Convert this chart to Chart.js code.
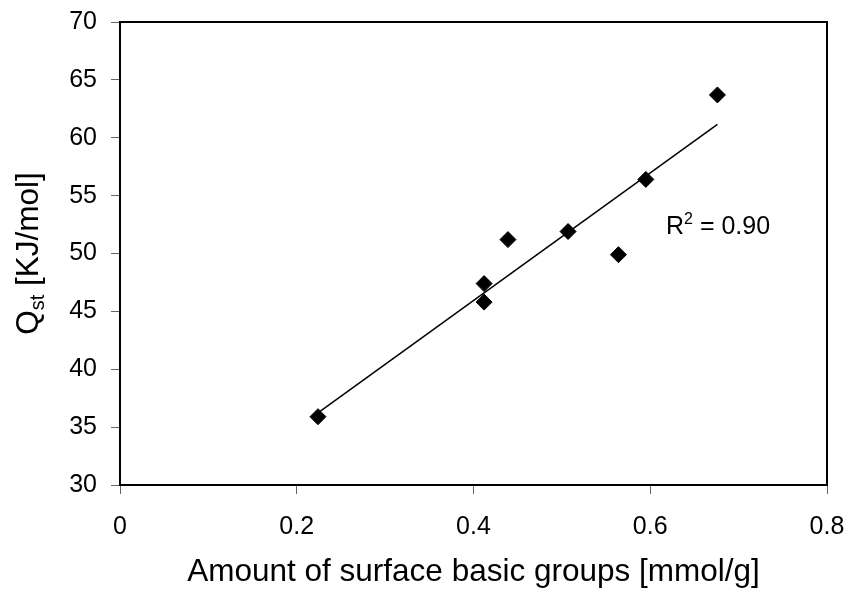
<!DOCTYPE html>
<html>
<head>
<meta charset="utf-8">
<script src="https://cdn.jsdelivr.net/npm/chart.js@4.4.1/dist/chart.umd.min.js"></script>
<style>
  html, body { margin: 0; padding: 0; background: #fff; }
  #wrap { width: 849px; height: 591px; }
</style>
</head>
<body>
<div id="wrap"><canvas id="qstChart" width="849" height="591"></canvas></div>
<script>
// Measured points (amount of basic groups vs Qst)
const basicGroups = [0.224, 0.412, 0.412, 0.439, 0.507, 0.564, 0.595, 0.676];
const qstValues = [35.9, 47.4, 45.8, 51.2, 51.9, 49.9, 56.4, 63.7];
const xTicks = [0, 0.2, 0.4, 0.6, 0.8];
const yTicks = [30, 35, 40, 45, 50, 55, 60, 65, 70];

const FONT = "'Liberation Sans', Arial, Helvetica, sans-serif";

// least squares trend line over the data range
function trendLine(xs, ys) {
    const n = xs.length;
    const mx = xs.reduce((a, b) => a + b, 0) / n;
    const my = ys.reduce((a, b) => a + b, 0) / n;
    let sxy = 0, sxx = 0;
    xs.forEach((x, i) => { sxy += (x - mx) * (ys[i] - my); sxx += (x - mx) * (x - mx); });
    const slope = sxy / sxx;
    const icpt = my - slope * mx;
    const x0 = Math.min(...xs), x1 = Math.max(...xs);
    return [{ x: x0, y: icpt + slope * x0 }, { x: x1, y: icpt + slope * x1 }];
}

const frame = {
    id: 'frame',
    afterDraw(chart) {
        const { ctx, chartArea: a } = chart;
        ctx.save();
        ctx.strokeStyle = '#000';
        ctx.lineWidth = 2;
        ctx.strokeRect(a.left, a.top, a.right - a.left, a.bottom - a.top);

        // y axis title with subscript
        ctx.fillStyle = '#000';
        ctx.textBaseline = 'alphabetic';
        ctx.translate(38, (a.top + a.bottom) / 2);
        ctx.rotate(-Math.PI / 2);
        const big = '31.5px ' + FONT, small = '20px ' + FONT;
        ctx.font = big; const wQ = ctx.measureText('Q').width;
        const wRest = ctx.measureText(' [KJ/mol]').width;
        ctx.font = small; const wSt = ctx.measureText('st').width;
        let x = -(wQ + wSt + wRest) / 2;
        ctx.font = big; ctx.fillText('Q', x, 0); x += wQ;
        ctx.font = small; ctx.fillText('st', x, 6); x += wSt;
        ctx.font = big; ctx.fillText(' [KJ/mol]', x, 0);
        ctx.restore();

        // R squared label
        ctx.save();
        ctx.fillStyle = '#000';
        ctx.textBaseline = 'alphabetic';
        let rx = 666, ry = 234;
        ctx.font = '25px ' + FONT; ctx.fillText('R', rx, ry); rx += ctx.measureText('R').width;
        ctx.font = '16px ' + FONT; ctx.fillText('2', rx, ry - 10); rx += ctx.measureText('2').width;
        ctx.font = '25px ' + FONT; ctx.fillText(' = 0.90', rx, ry);
        ctx.restore();
    }
};

new Chart(document.getElementById('qstChart'), {
    type: 'scatter',
    data: {
        datasets: [{
            data: basicGroups.map((x, i) => ({ x, y: qstValues[i] })),
            pointStyle: 'rectRot',
            pointRadius: 8,
            pointBackgroundColor: '#000',
            pointBorderColor: '#000',
            pointBorderWidth: 1,
            showLine: false
        }, {
            data: trendLine(basicGroups, qstValues),
            showLine: true,
            borderColor: '#000',
            borderWidth: 1.5,
            pointRadius: 0
        }]
    },
    options: {
        responsive: false,
        animation: false,
        layout: { padding: { top: 22, right: 22, left: 0, bottom: 0 } },
        plugins: { legend: { display: false }, tooltip: { enabled: false } },
        scales: {
            x: {
                type: 'linear',
                min: 0, max: 0.8,
                afterBuildTicks: s => { s.ticks = xTicks.map(v => ({ value: v })); },
                afterFit: s => { s.height = 106; s.paddingLeft = 0; s.paddingRight = 0; },
                grid: { drawOnChartArea: false, drawTicks: true, tickLength: 9, color: '#666', lineWidth: 1 },
                border: { display: true, color: '#000', width: 2 },
                ticks: { color: '#000', padding: 18, font: { family: FONT, size: 25 }, maxRotation: 0 },
                title: {
                    display: true,
                    text: 'Amount of surface basic groups [mmol/g]',
                    color: '#000',
                    font: { family: FONT, size: 31.5 },
                    padding: { top: 0, bottom: 0 }
                }
            },
            y: {
                min: 30, max: 70,
                afterBuildTicks: s => { s.ticks = yTicks.map(v => ({ value: v })); },
                afterFit: s => { s.width = 120; s.paddingTop = 0; s.paddingBottom = 0; },
                grid: { drawOnChartArea: false, drawTicks: true, tickLength: 9, color: '#666', lineWidth: 1 },
                border: { display: true, color: '#000', width: 2 },
                ticks: { color: '#000', padding: 14, font: { family: FONT, size: 25 } }
            }
        }
    },
    plugins: [frame]
});
</script>
</body>
</html>
